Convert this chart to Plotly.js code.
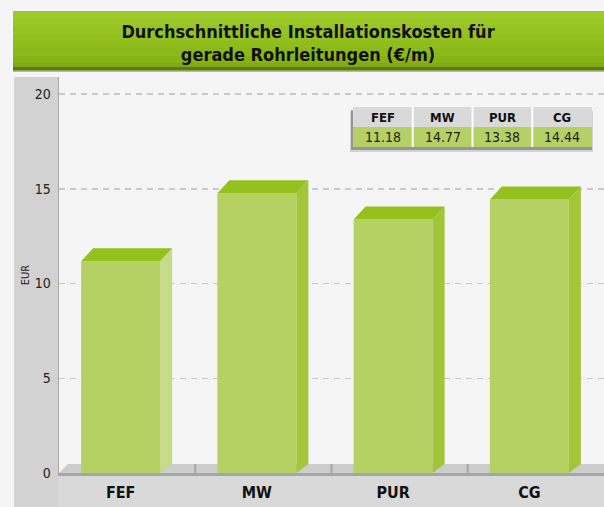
<!DOCTYPE html>
<html><head><meta charset="utf-8">
<script src="https://cdn.plot.ly/plotly-3.0.1.min.js"></script>
<style>html,body{margin:0;padding:0;background:#f5f5f5}</style>
</head><body><div id="chart" style="width:604px;height:507px"></div>
<script>
const categories = ['FEF', 'MW', 'PUR', 'CG'];
const values = [11.18, 14.77, 13.38, 14.44];
const yTicks = [0, 5, 10, 15, 20];
const titleLines = ['Durchschnittliche Installationskosten für', 'gerade Rohrleitungen (€/m)'];
const yTitle = 'EUR';

const FONT = "'DejaVu Sans Condensed', 'Liberation Sans Narrow', Roboto, sans-serif";
const W = 604, H = 507;
const M = {l: 59, r: 0, t: 77, b: 34};
const yMax = 20.9;
const plotW = W - M.l - M.r, plotH = H - M.t - M.b;
const pxX = plotW / categories.length;   // px per x unit
const pxY = plotH / yMax;                // px per y unit
const frontL = -46 / pxX, frontR = 33 / pxX;
const dX = 12 / pxX, dY = 13 / pxY, floorY = 9 / pxY;
const sideColors = ['#c4db87', '#a2c53a', '#a2c53a', '#a2c53a'];
const px2paperX = p => (p - M.l) / plotW;
const px2paperY = p => (H - M.b - p) / plotH;

const idx = categories.map((c, i) => i);
const traces = [{
  type: 'bar', x: idx, y: values, width: frontR - frontL, offset: frontL,
  marker: {color: '#b6d163', line: {width: 0}}, hoverinfo: 'skip'
}];
idx.forEach(i => {
  const v = values[i];
  traces.push({
    type: 'scatter', mode: 'lines', fill: 'toself', fillcolor: sideColors[i],
    line: {width: 0, color: sideColors[i]}, hoverinfo: 'skip',
    x: [i + frontR, i + frontR + dX, i + frontR + dX, i + frontR, i + frontR],
    y: [0, floorY, v + dY, v, 0]
  });
  traces.push({
    type: 'scatter', mode: 'lines', fill: 'toself', fillcolor: '#95c11f',
    line: {width: 0, color: '#95c11f'}, hoverinfo: 'skip',
    x: [i + frontL, i + frontL + dX, i + frontR + dX, i + frontR, i + frontL],
    y: [v, v + dY, v + dY, v, v]
  });
});

const shapes = [];
const annotations = [];
const prect = (x0, x1, y0, y1, color, layer) => shapes.push({
  type: 'rect', xref: 'paper', yref: 'paper', layer: layer || 'below',
  x0: px2paperX(x0), x1: px2paperX(x1), y0: px2paperY(y1), y1: px2paperY(y0),
  fillcolor: color, line: {width: 0}
});
// title bar (simulated vertical gradient)
const tbTop = 11, tbBot = 70;
const grad = ['#9ecb2c', '#9ac727', '#96c322', '#93c01f', '#90bd1c', '#8cb91a', '#87b317', '#80aa14'];
grad.forEach((c, k) => {
  const h = (tbBot - tbTop) / grad.length;
  prect(13, 604, tbTop + k * h, tbTop + (k + 1) * h + 0.5, c);
});
prect(13, 604, 67, 70, '#5c7a10');
prect(13, 604, 70, 72, 'rgba(60,80,20,0.35)');
// left strip and bottom band
prect(14, 58, 77, 507, '#d2d2d2');
prect(58, 604, 473, 507, '#d9d9d9');
// floor
shapes.push({type: 'path', xref: 'x', yref: 'y', layer: 'between',
  path: `M -0.5 0 L ${-0.5 + 9 / pxX} ${floorY} L 3.5 ${floorY} L 3.5 0 Z`,
  fillcolor: '#cdcdcd', line: {width: 0}});
[0.5, 1.5, 2.5].forEach(x => shapes.push({
  type: 'line', xref: 'x', yref: 'y', layer: 'between',
  x0: x, x1: x, y0: 0, y1: floorY, line: {color: '#a5a5a5', width: 2}
}));

// value table (built from categories / values)
const tX0 = 353, tX1 = 592, tY0 = 107, tYm = 127, tY1 = 147;
const colW = (tX1 - tX0) / categories.length;
prect(350, tX1 + 1, 111, tY1 + 5, 'rgba(90,90,90,0.22)');
prect(351, tX1, 110, tY1 + 3, 'rgba(60,60,60,0.4)');
prect(tX0, tX1, tY0, tYm, '#d9d9d9', 'above');
prect(tX0, tX1, tYm, tY1, '#b5d165', 'above');
categories.forEach((c, k) => {
  const cx = tX0 + colW * (k + 0.5);
  if (k > 0) prect(tX0 + colW * k - 1, tX0 + colW * k + 1, tY0, tY1, '#ffffff', 'above');
  annotations.push({xref: 'paper', yref: 'paper', x: px2paperX(cx), y: px2paperY((tY0 + tYm) / 2),
    text: '<b>' + c + '</b>', showarrow: false, xanchor: 'center', yanchor: 'middle',
    font: {family: FONT, size: 13, color: '#111'}});
  annotations.push({xref: 'paper', yref: 'paper', x: px2paperX(cx), y: px2paperY((tYm + tY1) / 2),
    text: values[k].toFixed(2), showarrow: false, xanchor: 'center', yanchor: 'middle',
    font: {family: FONT, size: 14, color: '#222'}});
});

const layout = {
  width: W, height: H, margin: M,
  paper_bgcolor: '#f5f5f5', plot_bgcolor: '#f5f5f5',
  showlegend: false, hovermode: false,
  font: {family: FONT, color: '#222'},
  title: {
    text: '<b>' + titleLines.join('<br>') + '</b>',
    font: {family: FONT, size: 18, color: '#111'},
    x: 308 / W, xref: 'container', xanchor: 'center',
    y: 1 - 38 / H, yref: 'container', yanchor: 'middle'
  },
  xaxis: {
    range: [-0.5, 3.5], fixedrange: true, showgrid: false, zeroline: false,
    tickvals: idx.map(i => i + (frontL + frontR) / 2), ticktext: categories,
    ticks: '', ticklabelstandoff: 3,
    tickfont: {family: FONT, size: 16, color: '#111', weight: 'bold'},
    showline: true, linecolor: '#a6a6a6', linewidth: 2.5
  },
  yaxis: {
    range: [0, yMax], fixedrange: true, tickvals: yTicks, ticks: '',
    ticklabelstandoff: 4,
    tickfont: {family: FONT, size: 14, color: '#222'},
    showgrid: true, gridcolor: '#c9c9c9', griddash: '6px,5px', gridwidth: 1.5,
    zeroline: false, showline: true, linecolor: '#aaaaaa', linewidth: 1.5,
    title: {text: yTitle, standoff: 3, font: {family: FONT, size: 11, color: '#222'}}
  },
  shapes: shapes,
  annotations: annotations
};

Plotly.newPlot('chart', traces, layout, {displayModeBar: false, staticPlot: true});
</script>
</body></html>
